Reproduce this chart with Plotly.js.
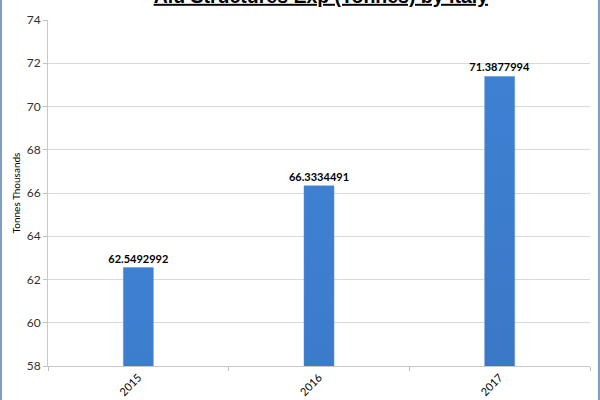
<!DOCTYPE html>
<html>
<head>
<meta charset="utf-8">
<script src="https://cdn.plot.ly/plotly-3.0.1.min.js"></script>
<style>
  html, body { margin: 0; padding: 0; background: #fff; }
  #chart { width: 600px; height: 400px; box-sizing: border-box; border-left: 2px solid #7f9fc2; border-right: 2px solid #7f9fc2; }
</style>
</head>
<body>
<div id="chart"></div>
<svg width="0" height="0" style="position:absolute">
  <defs>
    <linearGradient id="barGrad" x1="0" y1="0" x2="0" y2="1">
      <stop offset="0" stop-color="#3e80d2"/>
      <stop offset="1" stop-color="#2b5893"/>
    </linearGradient>
  </defs>
</svg>
<script>
// chart values
const years = ['2015', '2016', '2017'];
const tonnesThousands = [62.5492992, 66.3334491, 71.3877994];
const yTicks = [58, 60, 62, 64, 66, 68, 70, 72, 74];

const traces = [{
  x: years,
  y: tonnesThousands,
  type: 'bar',
  text: tonnesThousands.map(v => v.toFixed(7)),
  textposition: 'outside',
  constraintext: 'none',
  cliponaxis: false,
  textfont: { family: 'Lato', size: 11, color: '#000000', weight: 'bold' },
  marker: { color: '#356fb8', line: { color: '#5a8ed0', width: 0.5 } },
  hoverinfo: 'skip'
}];

const layout = {
  width: 596,
  height: 400,
  font: { family: 'Lato', size: 12, color: '#000000' },
  paper_bgcolor: '#ffffff',
  plot_bgcolor: '#ffffff',
  showlegend: false,
  bargap: 0.834,
  margin: { l: 46, r: 8, t: 20, b: 34 },
  title: {
    text: '<u><b>Alu Structures Exp (Tonnes) by Italy</b></u>',
    font: { family: 'Liberation Sans', size: 19.5, color: '#000000' },
    x: 0.535,
    xanchor: 'center',
    yref: 'container',
    y: 0.993,
    yanchor: 'bottom'
  },
  xaxis: {
    type: 'category',
    tickangle: -45,
    tickson: 'boundaries',
    ticks: 'outside',
    ticklen: 4,
    tickcolor: '#bfbfbf',
    showline: true,
    linecolor: '#c8c8c8',
    linewidth: 1,
    showgrid: false,
    tickfont: { family: 'Lato', size: 11, color: '#000000' }
  },
  yaxis: {
    title: { text: 'Tonnes Thousands', font: { family: 'Lato', size: 10, color: '#000000' }, standoff: 4 },
    range: [58, 74],
    tickmode: 'array',
    tickvals: yTicks,
    ticks: 'outside',
    ticklen: 4,
    tickcolor: '#bfbfbf',
    showline: true,
    linecolor: '#c8c8c8',
    linewidth: 1,
    showgrid: true,
    gridcolor: '#d9d9d9',
    gridwidth: 1,
    zeroline: false,
    fixedrange: true,
    tickfont: { family: 'Lato', size: 12, color: '#303030' }
  }
};

Plotly.newPlot('chart', traces, layout, { displayModeBar: false, staticPlot: true }).then(gd => {
  // Excel-like vertical gradient on the bars
  gd.querySelectorAll('g.point path').forEach(p => {
    p.style.setProperty('fill', 'url(#barGrad)', 'important');
  });
});
</script>
</body>
</html>
